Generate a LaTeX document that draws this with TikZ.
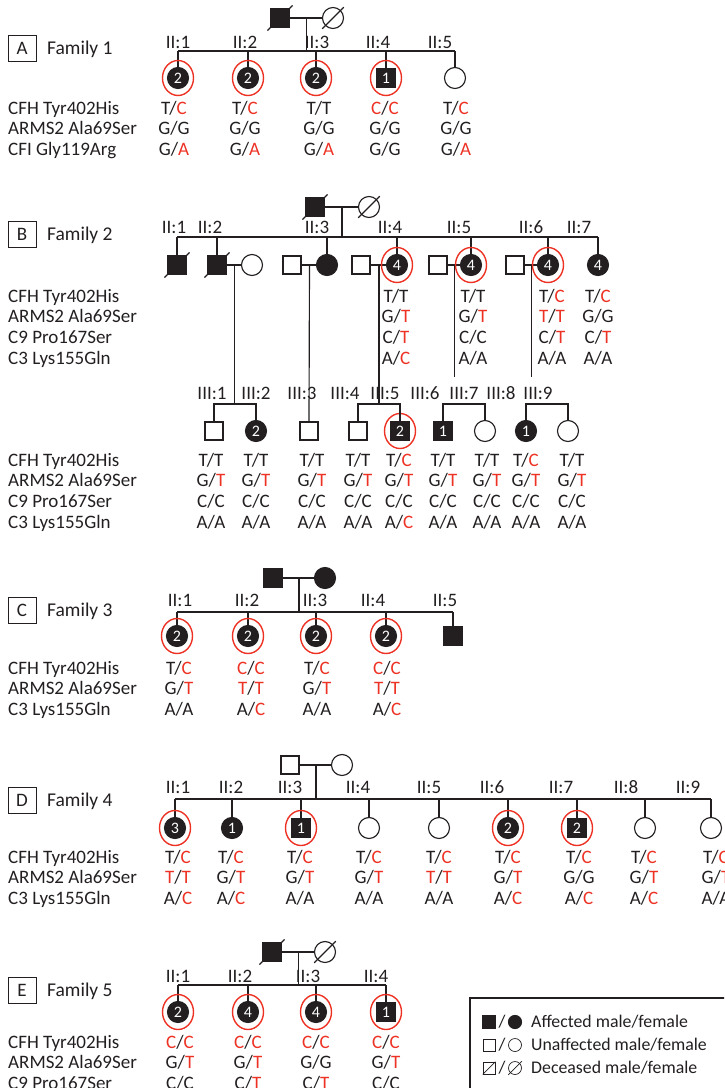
\documentclass[tikz,border=0pt]{standalone}
\usepackage{fontspec}
\setmainfont{Carlito}
\usetikzlibrary{calc,shapes.geometric}

\definecolor{ink}{RGB}{35,31,32}
\definecolor{allele}{RGB}{237,50,36}

% red allele
\newcommand\rd[1]{\textcolor{allele}{#1}}
% slash for a deceased person
\newcommand\dead[1]{\draw[link] ($(#1.south west)+(-3,3)$) -- ($(#1.north east)+(3,-3)$);}
% one genotype column, and the column of marker names
\newcommand\gcol[4]{\foreach \g [count=\k] in {#4} \node[gen] (#1-\k) at (#2,{#3+(\k-1)*20.7}) {\g};}
\newcommand\lcol[3]{\foreach \g [count=\k] in {#3} \node[gen,anchor=base west] (#1-\k) at (8,{#2+(\k-1)*20.7}) {\g};}

\tikzset{
  link/.style={draw=ink, line width=1.15pt},
  ind/.style={draw=ink, line width=1.15pt, inner sep=0pt, text=white,
    font=\fontsize{16}{16}\selectfont},
  male/.style={ind, rectangle, minimum size=18pt},
  female/.style={ind, circle, minimum size=21pt},
  aff/.style={fill=ink},
  ring/.style={draw=allele, line width=1.4pt, ellipse, inner sep=0pt,
    minimum width=31pt, minimum height=35pt},
  gen/.style={text=ink, inner sep=0pt, anchor=base,
    font=\fontsize{19}{19}\selectfont},
  fambox/.style={draw=ink, line width=0.8pt, minimum width=28pt, minimum height=26pt,
    inner sep=0pt, text=ink, font=\fontsize{19}{19}\selectfont},
  famname/.style={gen, anchor=base west, font=\fontsize{19.5}{19.5}\selectfont},
  legtext/.style={text=ink, inner sep=0pt, anchor=west, font=\fontsize{17.8}{17.8}\selectfont},
}

\begin{document}
\begin{tikzpicture}[x=1pt,y=-1pt]
\useasboundingbox (0,0) rectangle (724,1088);
\clip (0,0) rectangle (724,1088);

% ---------------- Family 1
\node[fambox] (A-box) at (22,48.5) {A};
\node[famname] (A-name) at (47,54) {Family 1};
\node[male,aff] (A-f) at (280,18) {};
\node[female] (A-m) at (333,18) {};
\dead{A-f} \dead{A-m}
\draw[link] (A-f) -- (A-m);
\coordinate (A-c) at ($(A-f)!0.5!(A-m)$);
\coordinate (A-s) at (A-c |- 0,51);
\draw[link] (A-c) -- (A-s);

\node[female,aff] (A1) at (178,78) {2};
\node[female,aff] (A2) at (248,78) {2};
\node[female,aff] (A3) at (316,78) {2};
\node[male,aff] (A4) at (386,78) {1};
\node[female] (A5) at (455,78) {};
\draw[link] (A1 |- A-s) -- (A5 |- A-s);
\foreach \i in {1,...,5} \draw[link] (A\i |- A-s) -- (A\i.north);
\foreach \i in {1,...,4} \node[ring] (A\i-r) at (A\i) {};

\foreach \x/\t [count=\i] in {178/II:1,245/II:2,317/II:3,378/II:4,440/II:5}
  \node[gen] (A-l\i) at (\x,48) {\t};

\lcol{A-g}{114}{CFH Tyr402His,ARMS2 Ala69Ser,CFI Gly119Arg}
\gcol{A1-g}{174}{114}{T/\rd{C},G/G,G/\rd{A}}
\gcol{A2-g}{245}{114}{T/\rd{C},G/G,G/\rd{A}}
\gcol{A3-g}{319}{114}{T/T,G/G,G/\rd{A}}
\gcol{A4-g}{385}{114}{\rd{C}/\rd{C},G/G,G/G}
\gcol{A5-g}{456}{114}{T/\rd{C},G/G,G/\rd{A}}

% ---------------- Family 2
\node[fambox] (B-box) at (22,234) {B};
\node[famname] (B-name) at (47,240) {Family 2};
\node[male,aff] (B-f) at (315,207) {};
\node[female] (B-m) at (369,207) {};
\dead{B-f} \dead{B-m}
\draw[link] (B-f) -- (B-m);
\coordinate (B-c) at ($(B-f)!0.5!(B-m)$);
\coordinate (B-s) at (B-c |- 0,237);
\draw[link] (B-c) -- (B-s);

\node[male,aff] (B1) at (177,265) {};
\node[male,aff] (B2) at (217,265) {};
\node[female] (B2w) at (252,265) {};
\node[male] (B3h) at (292,265) {};
\node[female,aff] (B3) at (327,265) {};
\node[male] (B4h) at (361,265) {};
\node[female,aff] (B4) at (397,265) {4};
\node[male] (B5h) at (438,265) {};
\node[female,aff] (B5) at (471,265) {4};
\node[male] (B6h) at (515,265) {};
\node[female,aff] (B6) at (548,265) {4};
\node[female,aff] (B7) at (598,265) {4};
\dead{B1} \dead{B2}
\draw[link] (B1 |- B-s) -- (B7 |- B-s);
\foreach \i in {1,...,7} \draw[link] (B\i |- B-s) -- (B\i.north);
\draw[link] (B2) -- (B2w);
\foreach \i in {3,...,6} \draw[link] (B\i h) -- (B\i);
\foreach \i in {4,5,6} \node[ring] (B\i-r) at (B\i) {};

\foreach \x/\t [count=\i] in {174/II:1,210/II:2,317/II:3,390/II:4,459/II:5,531/II:6,579/II:7}
  \node[gen] (B-l\i) at (\x,233) {\t};

\lcol{B-g}{302}{CFH Tyr402His,ARMS2 Ala69Ser,C9 Pro167Ser,C3 Lys155Gln}
\gcol{B4-g}{396}{302}{T/T,G/\rd{T},C/\rd{T},A/\rd{C}}
\gcol{B5-g}{473}{302}{T/T,G/\rd{T},C/C,A/A}
\gcol{B6-g}{552}{302}{T/\rd{C},\rd{T}/\rd{T},C/\rd{T},A/A}
\gcol{B7-g}{598}{302}{T/\rd{C},G/G,C/\rd{T},A/A}

% third generation
\node[male] (B-III1) at (214,431) {};
\node[female,aff] (B-III2) at (256,431) {2};
\node[male] (B-III3) at (309,431) {};
\node[male] (B-III4) at (358,431) {};
\node[male,aff] (B-III5) at (400,431) {2};
\node[male,aff] (B-III6) at (443,431) {1};
\node[female] (B-III7) at (485,431) {};
\node[female,aff] (B-III8) at (526,431) {1};
\node[female] (B-III9) at (568,431) {};
\node[ring] (B-III5-r) at (B-III5) {};

\coordinate (B2-c) at ($(B2)!0.5!(B2w)$);
\coordinate (B3-c) at ($(B3h)!0.5!(B3)$);
\coordinate (B4-c) at ($(B4h)!0.5!(B4)$);
\coordinate (B5-c) at ($(B5h)!0.5!(B5)$);
\coordinate (B6-c) at ($(B6h)!0.5!(B6)$);
\coordinate (B-t) at (0,404);
\draw[link] (B2-c) -- (B2-c |- B-t);
\draw[link] (B3-c) -- (B-III3.north);
\draw[link] (B4-c) -- (B4-c |- B-t);
\draw[link] (B5-c) -- (B5-c |- 0,377);
\draw[link] (B6-c) -- (B6-c |- 0,377);
\foreach \a/\b in {1/2,4/5,6/7,8/9}
  \draw[link] (B-III\a.north) -- (B-III\a |- B-t) -- (B-III\b |- B-t) -- (B-III\b.north);

\foreach \x [count=\i] in {212,256,302,345,385,425,464,501,538}
  \node[gen] (B-III-l\i) at (\x,399) {III:\i};

\lcol{B-h}{466}{CFH Tyr402His,ARMS2 Ala69Ser,C9 Pro167Ser,C3 Lys155Gln}
\gcol{B-III1-g}{211}{466}{T/T,G/\rd{T},C/C,A/A}
\gcol{B-III2-g}{256}{466}{T/T,G/\rd{T},C/C,A/A}
\gcol{B-III3-g}{312}{466}{T/T,G/\rd{T},C/C,A/A}
\gcol{B-III4-g}{358}{466}{T/T,G/\rd{T},C/C,A/A}
\gcol{B-III5-g}{399}{466}{T/\rd{C},G/\rd{T},C/C,A/\rd{C}}
\gcol{B-III6-g}{443}{466}{T/T,G/\rd{T},C/C,A/A}
\gcol{B-III7-g}{487}{466}{T/T,G/\rd{T},C/C,A/A}
\gcol{B-III8-g}{526}{466}{T/\rd{C},G/\rd{T},C/C,A/A}
\gcol{B-III9-g}{572}{466}{T/T,G/\rd{T},C/C,A/A}

% ---------------- Family 3
\node[fambox] (C-box) at (22,610) {C};
\node[famname] (C-name) at (47,616) {Family 3};
\node[male,aff] (C-f) at (273,578) {};
\node[female,aff] (C-m) at (325,578) {};
\draw[link] (C-f) -- (C-m);
\coordinate (C-c) at ($(C-f)!0.5!(C-m)$);
\coordinate (C-s) at (C-c |- 0,612);
\draw[link] (C-c) -- (C-s);

\node[female,aff] (C1) at (177,636) {2};
\node[female,aff] (C2) at (248,636) {2};
\node[female,aff] (C3) at (316,636) {2};
\node[female,aff] (C4) at (386,636) {2};
\node[male,aff] (C5) at (453,636) {};
\draw[link] (C1 |- C-s) -- (C5 |- C-s);
\foreach \i in {1,...,5} \draw[link] (C\i |- C-s) -- (C\i.north);
\foreach \i in {1,...,4} \node[ring] (C\i-r) at (C\i) {};

\foreach \x/\t [count=\i] in {180/II:1,247/II:2,315/II:3,373/II:4,445/II:5}
  \node[gen] (C-l\i) at (\x,606) {\t};

\lcol{C-g}{674}{CFH Tyr402His,ARMS2 Ala69Ser,C3 Lys155Gln}
\gcol{C1-g}{179}{674}{T/\rd{C},G/\rd{T},A/A}
\gcol{C2-g}{251}{674}{\rd{C}/\rd{C},\rd{T}/\rd{T},A/\rd{C}}
\gcol{C3-g}{317}{674}{T/\rd{C},G/\rd{T},A/A}
\gcol{C4-g}{387}{674}{\rd{C}/\rd{C},\rd{T}/\rd{T},A/\rd{C}}

% ---------------- Family 4
\node[fambox] (D-box) at (22,800) {D};
\node[famname] (D-name) at (47,806) {Family 4};
\node[male] (D-f) at (290,765) {};
\node[female] (D-m) at (342,765) {};
\draw[link] (D-f) -- (D-m);
\coordinate (D-c) at ($(D-f)!0.5!(D-m)$);
\coordinate (D-s) at (D-c |- 0,799);
\draw[link] (D-c) -- (D-s);

\node[female,aff] (D1) at (175,828) {3};
\node[female,aff] (D2) at (232,828) {1};
\node[male,aff] (D3) at (301,828) {1};
\node[female] (D4) at (369,828) {};
\node[female] (D5) at (439,828) {};
\node[female,aff] (D6) at (508,828) {2};
\node[male,aff] (D7) at (577,828) {2};
\node[female] (D8) at (645,828) {};
\node[female] (D9) at (711,828) {};
\draw[link] (D1 |- D-s) -- (D9 |- D-s);
\foreach \i in {1,...,9} \draw[link] (D\i |- D-s) -- (D\i.north);
\foreach \i in {1,3,6,7} \node[ring] (D\i-r) at (D\i) {};

\foreach \x [count=\i] in {178,231,290,358,429,492,561,626,688}
  \node[gen] (D-l\i) at (\x,793) {II:\i};

\lcol{D-g}{863}{CFH Tyr402His,ARMS2 Ala69Ser,C3 Lys155Gln}
\gcol{D1-g}{178}{863}{T/\rd{C},\rd{T}/\rd{T},A/\rd{C}}
\gcol{D2-g}{231}{863}{T/\rd{C},G/\rd{T},A/\rd{C}}
\gcol{D3-g}{300}{863}{T/\rd{C},G/\rd{T},A/A}
\gcol{D4-g}{369}{863}{T/\rd{C},G/\rd{T},A/A}
\gcol{D5-g}{439}{863}{T/\rd{C},\rd{T}/\rd{T},A/A}
\gcol{D6-g}{508}{863}{T/\rd{C},G/\rd{T},A/\rd{C}}
\gcol{D7-g}{579}{863}{T/\rd{C},G/G,A/\rd{C}}
\gcol{D8-g}{644}{863}{T/\rd{C},G/\rd{T},A/\rd{C}}
\gcol{D9-g}{716}{863}{T/\rd{C},G/\rd{T},A/A}

% ---------------- Family 5
\node[fambox] (E-box) at (22,990) {E};
\node[famname] (E-name) at (47,996) {Family 5};
\node[male,aff] (E-f) at (272,952) {};
\node[female] (E-m) at (325,952) {};
\dead{E-f} \dead{E-m}
\draw[link] (E-f) -- (E-m);
\coordinate (E-c) at ($(E-f)!0.5!(E-m)$);
\coordinate (E-s) at (E-c |- 0,985);
\draw[link] (E-c) -- (E-s);

\node[female,aff] (E1) at (178,1012) {2};
\node[female,aff] (E2) at (248,1012) {4};
\node[female,aff] (E3) at (316,1012) {4};
\node[male,aff] (E4) at (386,1012) {1};
\draw[link] (E1 |- E-s) -- (E4 |- E-s);
\foreach \i in {1,...,4} \draw[link] (E\i |- E-s) -- (E\i.north);
\foreach \i in {1,...,4} \node[ring] (E\i-r) at (E\i) {};

\foreach \x [count=\i] in {178,240,308,376}
  \node[gen] (E-l\i) at (\x,982) {II:\i};

\lcol{E-g}{1048}{CFH Tyr402His,ARMS2 Ala69Ser,C9 Pro167Ser}
\gcol{E1-g}{180}{1048}{\rd{C}/\rd{C},G/\rd{T},C/C}
\gcol{E2-g}{248}{1048}{\rd{C}/\rd{C},G/\rd{T},C/\rd{T}}
\gcol{E3-g}{316}{1048}{\rd{C}/\rd{C},G/G,C/\rd{T}}
\gcol{E4-g}{386}{1048}{\rd{C}/\rd{C},G/\rd{T},C/C}

% ---------------- key
\draw[link] (470,998) rectangle (740,1100);
\node[male,aff,minimum size=12pt] (K1a) at (489,1022) {};
\node[female,aff,minimum size=13pt] (K1b) at (515,1022) {};
\node[male,minimum size=12pt,line width=0.7pt] (K2a) at (489,1045) {};
\node[female,minimum size=13pt,line width=0.7pt] (K2b) at (515,1045) {};
\node[male,minimum size=12pt,line width=0.7pt] (K3a) at (489,1068) {};
\node[female,minimum size=13pt,line width=0.7pt] (K3b) at (515,1068) {};
\draw[draw=ink, line width=0.7pt] (K3a.south west) -- (K3a.north east);
\draw[draw=ink, line width=0.7pt] ($(K3b.south west)+(-2,2)$) -- ($(K3b.north east)+(2,-2)$);
\foreach \y [count=\i] in {1022,1045,1068}
  \node[legtext,anchor=center] (K\i s) at (502,\y) {/};
\node[legtext] (K1t) at (531,1022) {Affected male/female};
\node[legtext] (K2t) at (531,1045) {Unaffected male/female};
\node[legtext] (K3t) at (531,1068) {Deceased male/female};
\end{tikzpicture}
\end{document}
